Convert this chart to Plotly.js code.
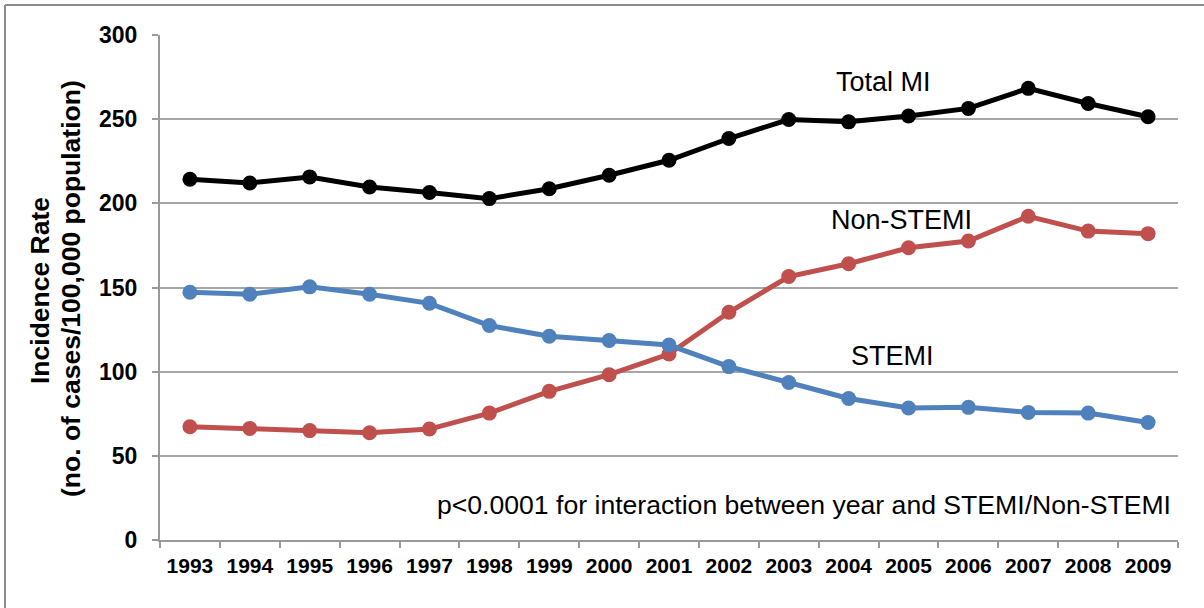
<!DOCTYPE html>
<html>
<head>
<meta charset="utf-8">
<script src="https://cdn.plot.ly/plotly-3.0.1.min.js"></script>
<style>
  html, body { margin: 0; padding: 0; background: #ffffff; }
  #chart { width: 1204px; height: 608px; }
</style>
</head>
<body>
<div id="chart"></div>
<script>
const years = ['1993','1994','1995','1996','1997','1998','1999','2000','2001','2002','2003','2004','2005','2006','2007','2008','2009'];
const totalMI = [214.3, 212.1, 215.7, 209.7, 206.4, 202.8, 208.7, 216.7, 225.6, 238.5, 249.8, 248.4, 251.9, 256.4, 268.3, 259.3, 251.4];
const nonSTEMI = [67.3, 66.3, 65.0, 63.7, 65.9, 75.4, 88.3, 98.2, 110.5, 135.3, 156.5, 164.1, 173.6, 177.6, 192.3, 183.5, 182.0];
const stemi = [147.2, 146.0, 150.4, 146.0, 140.6, 127.4, 121.0, 118.5, 115.8, 103.0, 93.6, 84.1, 78.4, 78.8, 75.8, 75.4, 69.8];
const yTicks = [0, 50, 100, 150, 200, 250, 300];

const W = 1204, H = 608;
const M = {l: 160, r: 26, t: 35, b: 68};
const pw = W - M.l - M.r, ph = H - M.t - M.b;
const px = v => (v - M.l) / pw;
const py = v => (H - M.b - v) / ph;

function series(name, y, color) {
  return {
    x: years, y: y, name: name, type: 'scatter', mode: 'lines+markers',
    line: {color: color, width: 5},
    marker: {color: color, size: 15},
    hoverinfo: 'x+y'
  };
}

const data = [
  series('Total MI', totalMI, '#000000'),
  series('Non-STEMI', nonSTEMI, '#c0504d'),
  series('STEMI', stemi, '#4f81bd')
];

const font = 'Liberation Sans, Arial, sans-serif';
const labelFont = {family: font, size: 27, color: '#000000'};
const titleFont = {family: font, size: 26.5, color: '#000000', weight: 'bold'};

const layout = {
  width: W, height: H,
  margin: M,
  paper_bgcolor: '#ffffff',
  plot_bgcolor: '#ffffff',
  showlegend: false,
  font: {family: font, color: '#000000'},
  xaxis: {
    type: 'category',
    range: [-0.5, years.length - 0.5],
    autorange: false,
    showgrid: false,
    zeroline: false,
    showline: true, linecolor: '#9a9a9a', linewidth: 2,
    ticks: 'outside', tickson: 'boundaries', ticklen: 6, tickwidth: 2, tickcolor: '#9a9a9a',
    tickfont: {family: font, size: 21, color: '#000000', weight: 'bold'},
    ticklabelstandoff: 6,
    fixedrange: true
  },
  yaxis: {
    range: [0, 300],
    autorange: false,
    tickvals: yTicks,
    ticktext: yTicks.map(String),
    showgrid: true, gridcolor: '#a6a6a6', gridwidth: 2,
    zeroline: false,
    showline: true, linecolor: '#9a9a9a', linewidth: 2,
    ticks: 'outside', ticklen: 6, tickwidth: 2, tickcolor: '#9a9a9a',
    tickfont: {family: font, size: 23, color: '#000000', weight: 'bold'},
    ticklabelstandoff: 10,
    fixedrange: true
  },
  annotations: [
    {xref: 'paper', yref: 'paper', x: px(40), y: py(291), text: 'Incidence Rate',
     textangle: -90, showarrow: false, xanchor: 'center', yanchor: 'middle', font: titleFont},
    {xref: 'paper', yref: 'paper', x: px(71), y: py(289), text: '(no. of cases/100,000 population)',
     textangle: -90, showarrow: false, xanchor: 'center', yanchor: 'middle', font: titleFont},
    {xref: 'paper', yref: 'paper', x: px(883), y: py(82), text: 'Total MI', showarrow: false,
     xanchor: 'center', yanchor: 'middle', font: labelFont},
    {xref: 'paper', yref: 'paper', x: px(901), y: py(220), text: 'Non-STEMI', showarrow: false,
     xanchor: 'center', yanchor: 'middle', font: labelFont},
    {xref: 'paper', yref: 'paper', x: px(892), y: py(356), text: 'STEMI', showarrow: false,
     xanchor: 'center', yanchor: 'middle', font: labelFont},
    {xref: 'paper', yref: 'paper', x: px(1173), y: py(505), text: 'p<0.0001 for interaction between year and STEMI/Non-STEMI', showarrow: false,
     xanchor: 'right', yanchor: 'middle', font: {family: font, size: 26.6, color: '#000000'}}
  ],
  shapes: [
    {type: 'line', xref: 'paper', yref: 'paper', x0: px(5), x1: px(5), y0: py(5), y1: py(H + 10),
     line: {color: '#8c8c8c', width: 2}},
    {type: 'line', xref: 'paper', yref: 'paper', x0: px(5), x1: px(W + 10), y0: py(5), y1: py(5),
     line: {color: '#8c8c8c', width: 2}}
  ]
};

Plotly.newPlot('chart', data, layout, {displayModeBar: false, staticPlot: true});
</script>
</body>
</html>
